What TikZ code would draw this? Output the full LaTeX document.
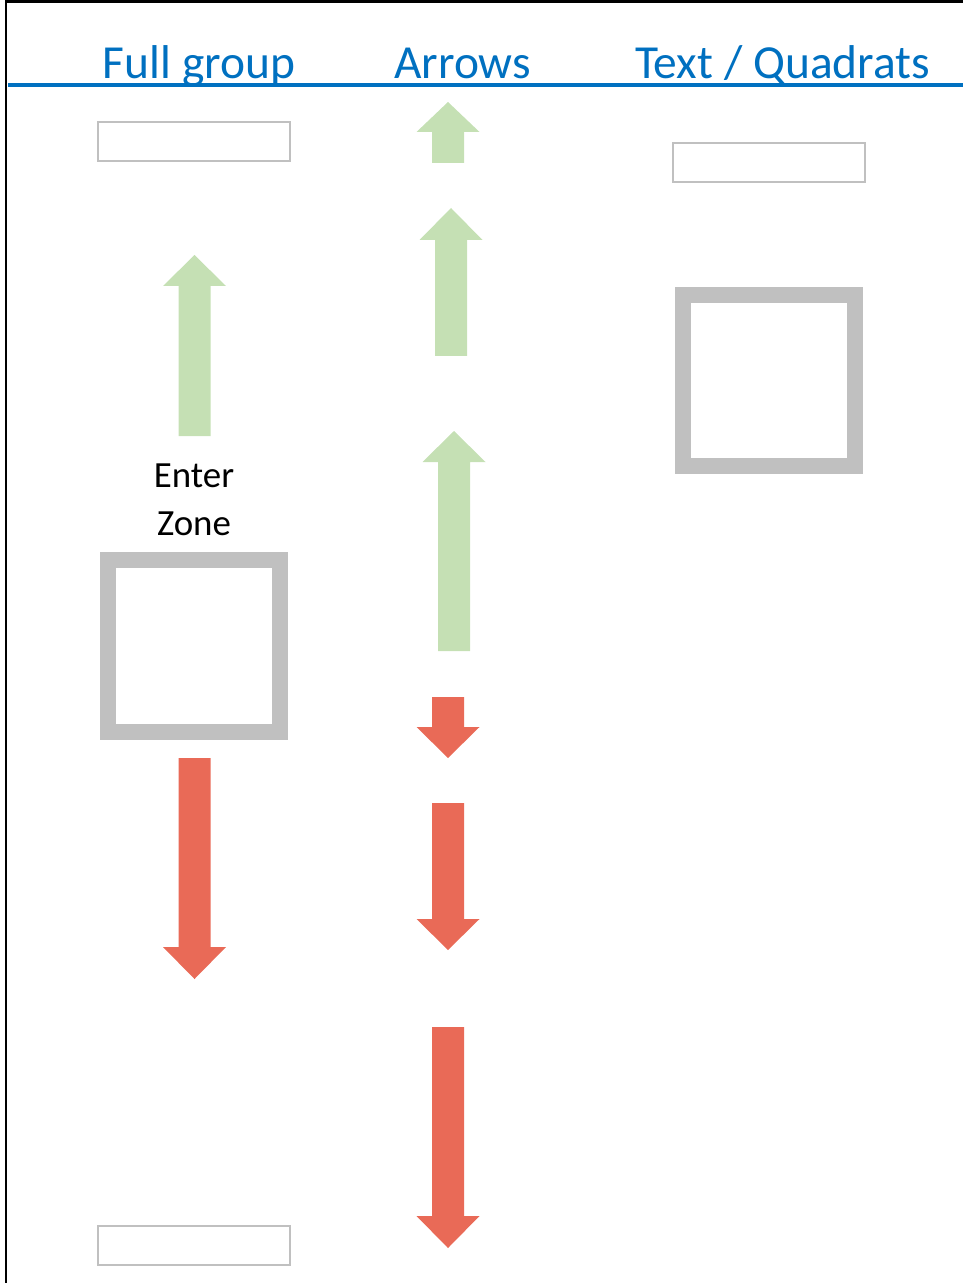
\documentclass[tikz,border=0pt]{standalone}
\usepackage{fontspec}
\setmainfont{Carlito}
\usepackage{tikz}
\usetikzlibrary{positioning}
\definecolor{titleblue}{HTML}{0070C0}
\definecolor{upgreen}{HTML}{C5E0B4}
\definecolor{downred}{HTML}{E96A57}
\definecolor{slotgray}{HTML}{C0C0C0}
\tikzset{
    heading/.style={text=titleblue, font=\fontsize{27}{31}\selectfont, anchor=base, inner sep=0pt},
    zonelabel/.style={align=center, font=\fontsize{21}{27}\selectfont, inner sep=0pt},
    slot/.style={draw=slotgray, line width=1.1pt},
    zonebox/.style={draw=slotgray, line width=9pt},
    frame/.style={draw=black, line width=1.7pt},
    rule/.style={draw=titleblue, line width=2pt}
}
% block arrow: colour, x, tail y, head base y, tip y
\newcommand{\blockarrow}[5]{%
  \fill[#1] (#2-16,#3) -- (#2-16,#4) -- (#2-31.5,#4) -- (#2,#5)
    -- (#2+31.5,#4) -- (#2+16,#4) -- (#2+16,#3) -- cycle;}

\begin{document}
\begin{tikzpicture}[x=0.02cm, y=-0.02cm]
    \useasboundingbox (0,0) rectangle (963,1283);

    % frame and title rule
    \draw[frame] (6,1283) -- (6,2) -- (963,2);
    \draw[rule] (8,85) -- (963,85);

    % column headings
    \node[heading] (fullgroup) at (199,79) {Full group};
    \node[heading] (arrows) at (462.5,79) {Arrows};
    \node[heading] (quadrats) at (782.5,79) {Text / Quadrats};

    % full group column
    \draw[slot] (98,122) rectangle (290,161);
    \blockarrow{upgreen}{194.5}{436}{286}{255}
    \node[zonelabel] (enterzone) at (194,500) {Enter\\Zone};
    \draw[zonebox] (108,560) rectangle (280,732);
    \blockarrow{downred}{194.5}{758}{947}{979}
    \draw[slot] (98,1226) rectangle (290,1265);

    % arrows column
    \blockarrow{upgreen}{448}{163}{132}{102}
    \blockarrow{upgreen}{451}{356}{240}{208}
    \blockarrow{upgreen}{454}{651}{462}{431}
    \blockarrow{downred}{448}{697}{727}{758}
    \blockarrow{downred}{448}{803}{919}{950}
    \blockarrow{downred}{448}{1027}{1216}{1248}

    % text / quadrats column
    \draw[slot] (673,143) rectangle (865,182);
    \draw[zonebox] (683,295) rectangle (855,466);
\end{tikzpicture}
\end{document}
